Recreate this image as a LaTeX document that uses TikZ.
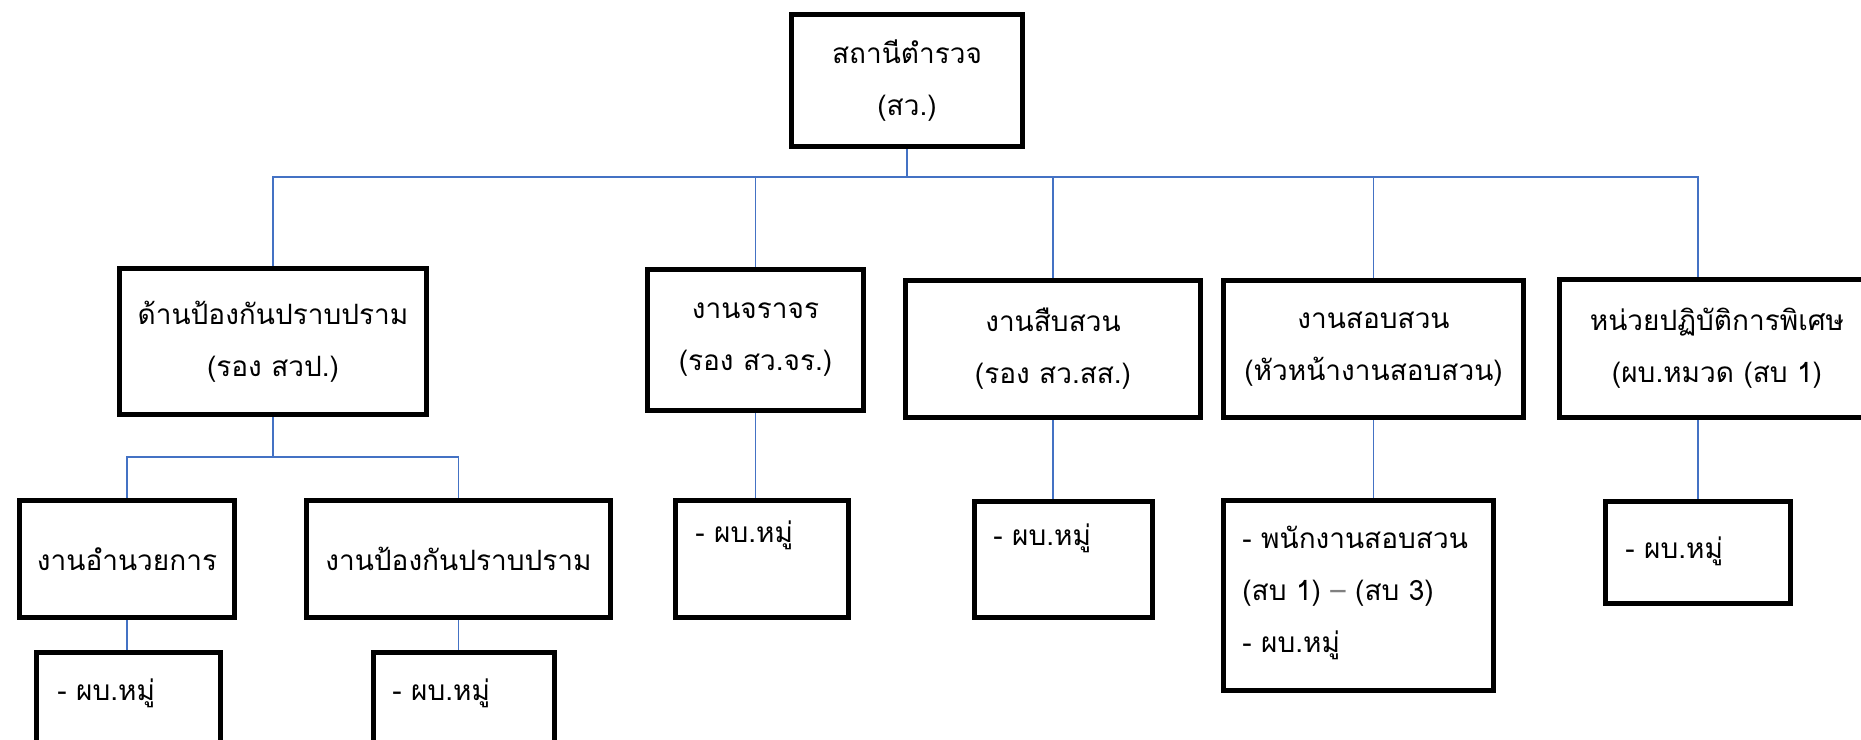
\documentclass[tikz,border=0pt]{standalone}
\usepackage{fontspec}
\newfontfamily\thaifont[Script=Thai]{Loma}
\usepackage{xcolor}
\definecolor{linkblue}{RGB}{68,114,196}
\usetikzlibrary{calc}
\usetikzlibrary{positioning}

\begin{document}
\begin{tikzpicture}[
  x=0.5pt, y=-0.5pt,
  every node/.style={font=\thaifont\fontsize{14}{26}\selectfont},
	block1/.style={
	draw,
	fill=white,
	rectangle,
	line width=2.5pt,
	align=center,
	inner sep=0pt},
	block2/.style={
	draw,
	fill=white,
	rectangle,
	line width=2.5pt,
	inner sep=0pt},
	entry/.style={
	anchor=west,
	align=left,
	inner sep=0pt},
	connector/.style={
	draw=linkblue,
	line width=0.85pt}
	]

	\clip (0,0) rectangle (1861,739);

	% Station
	\node [block1, minimum width=115.5pt, minimum height=66pt] at (907,80.5) (station) {สถานีตำรวจ\\(สว.)};

	% Divisions
	\node [block1, minimum width=153.5pt, minimum height=73pt]   at (273,341.5)  (div1) {ด้านป้องกันปราบปราม\\(รอง สวป.)};
	\node [block1, minimum width=108pt,   minimum height=70.5pt] at (755.5,340)  (div2) {งานจราจร\\(รอง สว.จร.)};
	\node [block1, minimum width=147.5pt, minimum height=68.5pt] at (1053,349)   (div3) {งานสืบสวน\\(รอง สว.สส.)};
	\node [block1, minimum width=150pt,   minimum height=68.5pt] at (1373.5,349) (div4) {งานสอบสวน\\(หัวหน้างานสอบสวน)};
	\node [block1, minimum width=157.5pt, minimum height=69pt]   at (1717,348.5) (div5) {หน่วยปฏิบัติการพิเศษ\\(ผบ.หมวด (สบ 1)};

	% Crime prevention works
	\node [block1, minimum width=107.5pt, minimum height=58.5pt] at (127,559)   (d1w1) {งานอำนวยการ};
	\node [block1, minimum width=152pt,   minimum height=58.5pt] at (458.5,559) (d1w2) {งานป้องกันปราบปราม};

	% Squad boxes
	\node [block2, minimum width=92pt,   minimum height=58.5pt] at (128.5,711)    (d1w1s) {};
	\node [block2, minimum width=90.5pt, minimum height=58.5pt] at (464,711)      (d1w2s) {};
	\node [block2, minimum width=86.5pt, minimum height=58.5pt] at (762,559)      (d2s) {};
	\node [block2, minimum width=89pt,   minimum height=58pt]   at (1063.5,559.5) (d3s) {};
	\node [block2, minimum width=135pt,  minimum height=95pt]   at (1358.5,595.5) (d4s) {};
	\node [block2, minimum width=92.5pt, minimum height=51pt]   at (1698,552.5)   (d5s) {};

	% Squad entries
	\node [entry] at ($(d1w1s.north west)+(23,43)$) (d1w1t) {- ผบ.หมู่};
	\node [entry] at ($(d1w2s.north west)+(21,43)$) (d1w2t) {- ผบ.หมู่};
	\node [entry] at ($(d2s.north west)+(22,37)$)   (d2t) {- ผบ.หมู่};
	\node [entry] at ($(d3s.north west)+(21,39)$)   (d3t) {- ผบ.หมู่};
	\node [entry] at ($(d4s.north west)+(21,95)$)   (d4t) {- พนักงานสอบสวน\\(สบ 1) {\color{gray}–} (สบ 3)\\- ผบ.หมู่};
	\node [entry] at ($(d5s.north west)+(22,52)$)   (d5t) {- ผบ.หมู่};

	% Lines
	\coordinate (bus1) at (907,177);
	\coordinate (bus2) at (273,457);

	\draw[connector] (station.south) -- (bus1);
	\draw[connector] (div1.north) |- (bus1) -| (d5s.north |- div5.north);
	\draw[connector] (div2.north) -- (div2.north |- bus1);
	\draw[connector] (div3.north) -- (div3.north |- bus1);
	\draw[connector] (div4.north) -- (div4.north |- bus1);

	\draw[connector] (div1.south) -- (bus2);
	\draw[connector] (d1w1.north) |- (bus2) -| (d1w2.north);

	\draw[connector] (d1w1.south) -- (d1w1.south |- d1w1s.north);
	\draw[connector] (d1w2.south) -- (d1w2.south |- d1w2s.north);
	\draw[connector] (div2.south) -- (div2.south |- d2s.north);
	\draw[connector] (div3.south) -- (div3.south |- d3s.north);
	\draw[connector] (div4.south) -- (div4.south |- d4s.north);
	\draw[connector] (d5s.north |- div5.south) -- (d5s.north);

\end{tikzpicture}
\end{document}
